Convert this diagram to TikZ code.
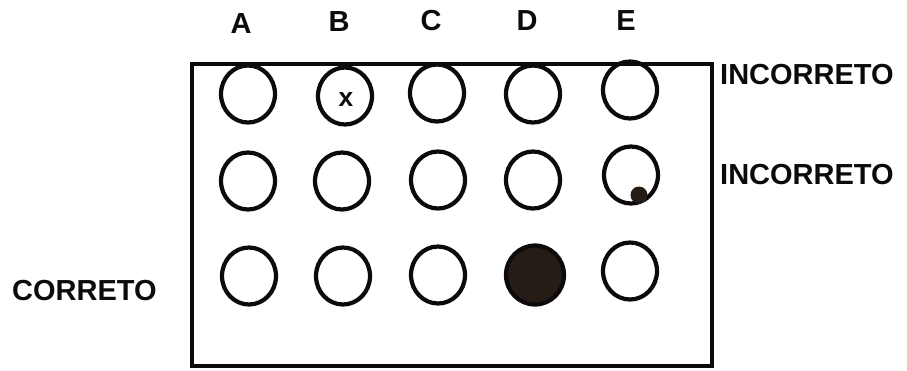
\documentclass[tikz,border=0pt]{standalone}
\usepackage{fontspec}
\setmainfont{Liberation Sans}
\usetikzlibrary{positioning,shapes.geometric}
\definecolor{sheetink}{RGB}{12,10,10}
\definecolor{markfill}{RGB}{38,28,22}

\begin{document}
\begin{tikzpicture}[
  x=0.02cm, y=-0.02cm,
  font=\fontsize{16.5}{18}\selectfont\bfseries,
  bubble/.style={ellipse, draw=sheetink, line width=2.4pt, minimum width=1.08cm, minimum height=1.14cm, inner sep=0pt},
  filled/.style={bubble, fill=markfill, minimum width=1.16cm, minimum height=1.18cm},
  smudge/.style={circle, fill=markfill, minimum size=0.34cm, inner sep=0pt},
  colhead/.style={text=sheetink, anchor=center},
  verdict/.style={text=sheetink, anchor=west}
]
\useasboundingbox (0,0) rectangle (907,370);
% answer sheet frame
\draw[sheetink, line width=2.8pt] (192,64) rectangle (712,366);
% column letters
\node[colhead] (la) at (241,24) {A};
\node[colhead] (lb) at (339,22) {B};
\node[colhead] (lc) at (431,21) {C};
\node[colhead] (ld) at (527,21) {D};
\node[colhead] (le) at (626,21) {E};
% row 1
\node[bubble] (a1) at (248,94) {};
\node[bubble] (b1) at (345,96) {};
\node[text=sheetink, font=\fontsize{15}{16}\selectfont\bfseries] (b1x) at (346,100) {x};
\node[bubble] (c1) at (437,93) {};
\node[bubble] (d1) at (533,94) {};
\node[bubble] (e1) at (630,90) {};
% row 2
\node[bubble] (a2) at (248,181) {};
\node[bubble] (b2) at (342,181) {};
\node[bubble] (c2) at (438,180) {};
\node[bubble] (d2) at (533,180) {};
\node[bubble] (e2) at (631,175) {};
\node[smudge] (e2mark) at (639,195) {};
% row 3
\node[bubble] (a3) at (249,276) {};
\node[bubble] (b3) at (343,276) {};
\node[bubble] (c3) at (438,275) {};
\node[filled] (d3) at (535,275) {};
\node[bubble] (e3) at (630,271) {};
% verdicts
\node[verdict] (v1) at (714,75) {INCORRETO};
\node[verdict] (v2) at (714,175) {INCORRETO};
\node[verdict] (v3) at (6,291) {CORRETO};
\end{tikzpicture}
\end{document}
